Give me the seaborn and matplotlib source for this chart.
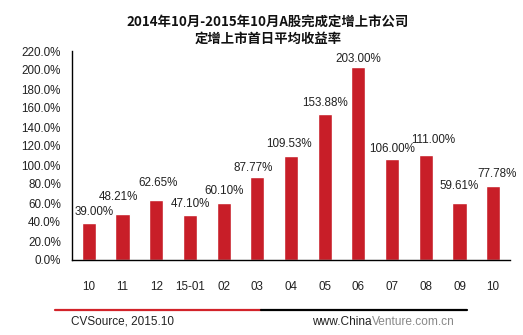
import matplotlib
matplotlib.use("Agg")
import matplotlib.pyplot as plt
import seaborn as sns
import pandas as pd

# Monthly average first-day return of private placements (A-share)
months = ["10", "11", "12", "15-01", "02", "03", "04", "05", "06", "07", "08", "09", "10"]
returns = [39.00, 48.21, 62.65, 47.10, 60.10, 87.77, 109.53, 153.88, 203.00, 106.00, 111.00, 59.61, 77.78]
y_ticks = [0, 20, 40, 60, 80, 100, 120, 140, 160, 180, 200, 220]

title = "2014年10月-2015年10月A股完成定增上市公司\n定增上市首日平均收益率"
source = "CVSource, 2015.10"

# label nudges in pixels (dx, dy above bar top)
label_dx = [5, -4, 2, 1, 0, -4, -2, 0, 0, 0, 7, 0, 4]
label_dy = [8, 14, 14, 8, 9, 6, 9, 8, 5, 7, 12, 14, 9]

sns.set_theme(style="white")
plt.rcParams["font.family"] = ["Liberation Sans", "Noto Sans CJK SC", "DejaVu Sans"]

df = pd.DataFrame({"pos": list(range(len(months))), "ret": returns})

fig = plt.figure(figsize=(5.23, 3.35), dpi=100)
ax = fig.add_axes([72 / 523, 1 - 260 / 335, 438 / 523, 209 / 335])

bar_color = "#C81E28"
sns.barplot(data=df, x="pos", y="ret", color=bar_color, saturation=1,
            width=0.42, ax=ax)

ax.set_ylim(0, 220)
ax.set_xlim(-0.5, len(months) - 0.5)
ax.set_yticks(y_ticks)
ax.set_yticklabels([f"{v:.1f}%" for v in y_ticks], fontsize=8.4, color="#222222")
ax.set_xticks(range(len(months)))
ax.set_xticklabels(months, fontsize=8.4, color="#222222")
ax.tick_params(axis="x", length=0, pad=15)
ax.tick_params(axis="y", length=0, pad=8)
ax.set_xlabel("")
ax.set_ylabel("")

for side in ["top", "right"]:
    ax.spines[side].set_visible(False)
for side in ["left", "bottom"]:
    ax.spines[side].set_color("black")
    ax.spines[side].set_linewidth(1.0)

for i, v in enumerate(returns):
    ax.annotate(f"{v:.2f}%", xy=(i, v), xytext=(label_dx[i] * 0.72, label_dy[i] * 0.72),
                textcoords="offset points", ha="center", va="baseline",
                fontsize=8.4, color="#222222")

fig.text(268 / 523, 1 - 30 / 335, title, ha="center", va="center",
         fontsize=9.6, fontweight="bold", color="#111111",
         family=["Noto Sans CJK SC", "DejaVu Sans"], linespacing=1.3)

# footer rule: red then black
fig.add_artist(plt.Line2D([55 / 523, 261 / 523], [1 - 310 / 335] * 2,
                          color="#D2232A", linewidth=1.6, transform=fig.transFigure))
fig.add_artist(plt.Line2D([261 / 523, 467 / 523], [1 - 310 / 335] * 2,
                          color="black", linewidth=1.6, transform=fig.transFigure))

fig.text(71 / 523, 1 - 322 / 335, source, ha="left", va="center",
         fontsize=8.5, color="#222222")
t1 = fig.text(312 / 523, 1 - 322 / 335, "www.China", ha="left", va="center",
              fontsize=8.6, color="#222222")
ax.annotate("Venture.com.cn", xy=(1, 0.5), xycoords=t1, ha="left", va="center",
            fontsize=8.6, color="#888888", annotation_clip=False)

fig.savefig("out.png", dpi=100)
